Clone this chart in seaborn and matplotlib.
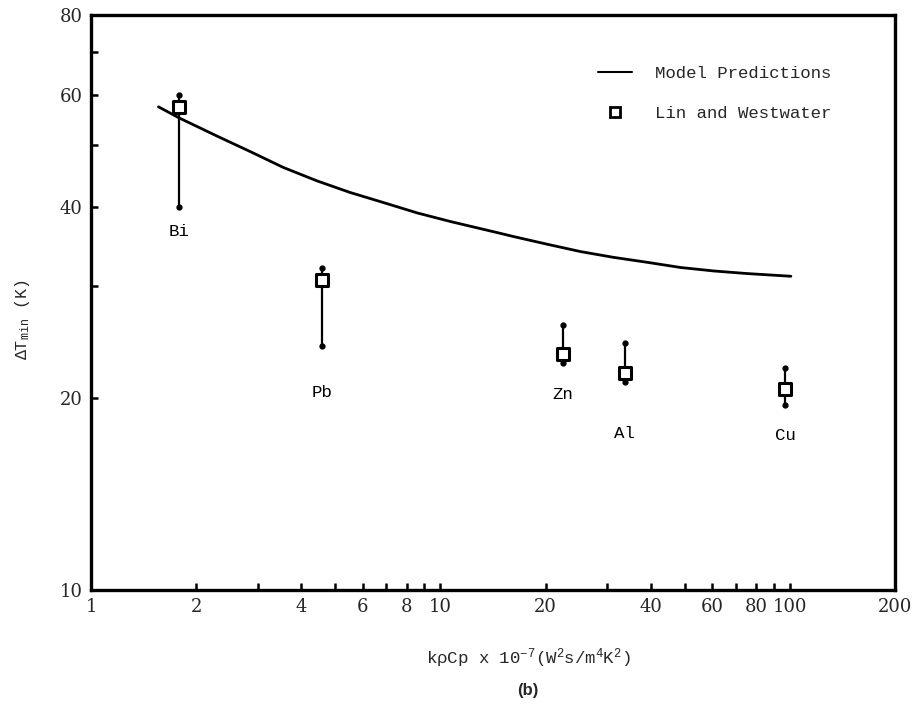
import numpy as np
import pandas as pd
import matplotlib
matplotlib.use("Agg")
import matplotlib.pyplot as plt
from matplotlib.lines import Line2D
from matplotlib.ticker import FixedLocator, NullFormatter, FixedFormatter
import seaborn as sns

# Model curve: kρCp (x 1e-7) vs minimum film-boiling superheat
model_x = [1.56, 1.78, 2.30, 2.86, 3.55, 4.44, 5.52, 6.87, 8.59, 10.7, 14.6,
           16.2, 20.3, 25.2, 31.3, 39.2, 48.7, 60.6, 75.8, 100.7]
model_y = [57.4, 55.2, 51.6, 48.8, 46.1, 43.9, 42.1, 40.6, 39.1, 37.9, 36.4,
           35.9, 34.9, 34.0, 33.3, 32.7, 32.1, 31.7, 31.4, 31.1]

# Lin and Westwater measurements
metals = ["Bi", "Pb", "Zn", "Al", "Cu"]
meas_x = [1.79, 4.59, 22.4, 33.7, 96.8]
meas_y = [57.4, 30.7, 23.5, 21.9, 20.7]
meas_hi = [60.0, 32.0, 26.1, 24.4, 22.3]
meas_lo = [40.0, 24.2, 22.7, 21.2, 19.5]

# label positions below each measurement (data coords)
label_y = [36.6, 20.4, 20.3, 17.6, 17.5]

x_ticks_labeled = [1, 2, 4, 6, 8, 10, 20, 40, 60, 80, 100, 200]
y_ticks_labeled = [10, 20, 40, 60, 80]

sns.set_style("ticks")
plt.rcParams["font.family"] = ["Liberation Mono", "DejaVu Sans"]
plt.rcParams["mathtext.fontset"] = "custom"
plt.rcParams["mathtext.rm"] = "Liberation Mono"
plt.rcParams["mathtext.it"] = "Liberation Mono"

fig = plt.figure(figsize=(9.17, 7.12), dpi=100)
ax = fig.add_axes([91 / 917, 1 - 590 / 712, (895 - 91) / 917, (590 - 15) / 712])

model_df = pd.DataFrame({"x": model_x, "y": model_y})
meas_df = pd.DataFrame({"x": meas_x, "y": meas_y, "metal": metals})

sns.lineplot(data=model_df, x="x", y="y", ax=ax, color="black", lw=2.0,
             sort=False, estimator=None)

# asymmetric error bars with dot ends
for xv, lo, hi in zip(meas_x, meas_lo, meas_hi):
    ax.plot([xv, xv], [lo, hi], color="black", lw=1.6, zorder=3)
    ax.plot([xv, xv], [lo, hi], ls="none", marker="o", ms=3.5, color="black", zorder=3)

sns.scatterplot(data=meas_df, x="x", y="y", ax=ax, marker="s", s=85,
                facecolor="white", edgecolor="black", linewidth=2.2, zorder=4)

for m, xv, ly in zip(metals, meas_x, label_y):
    ax.text(xv, ly, m, ha="center", va="center", fontsize=12.5, color="black")

ax.set_xscale("log")
ax.set_yscale("log")
ax.set_xlim(1, 200)
ax.set_ylim(10, 80)

minor_x = [3, 5, 7, 9, 30, 50, 70, 90]
ax.xaxis.set_major_locator(FixedLocator(x_ticks_labeled))
ax.xaxis.set_major_formatter(FixedFormatter([str(v) for v in x_ticks_labeled]))
ax.xaxis.set_minor_locator(FixedLocator(minor_x))
ax.xaxis.set_minor_formatter(NullFormatter())
ax.yaxis.set_major_locator(FixedLocator(y_ticks_labeled))
ax.yaxis.set_major_formatter(FixedFormatter([str(v) for v in y_ticks_labeled]))
ax.yaxis.set_minor_locator(FixedLocator([30, 50, 70]))
ax.yaxis.set_minor_formatter(NullFormatter())

ax.tick_params(which="both", direction="in", length=5, width=1.8, color="black",
               labelsize=13, pad=6)
for lbl in ax.get_xticklabels() + ax.get_yticklabels():
    lbl.set_fontfamily("DejaVu Serif")

for side in ["left", "right", "top", "bottom"]:
    ax.spines[side].set_visible(True)
    ax.spines[side].set_linewidth(2.4)
    ax.spines[side].set_color("black")

ax.set_xlabel("")
ax.set_ylabel("")
fig.text(528 / 917, 1 - 658 / 712, r"k$\rho$Cp x 10$^{-7}$(W$^{2}$s/m$^{4}$K$^{2}$)",
         ha="center", va="center", fontsize=12.5)
fig.text(528 / 917, 1 - 691 / 712, "(b)", ha="center", va="center",
         fontsize=12, fontweight="bold", family="Liberation Sans")
fig.text(22 / 917, 1 - 320 / 712, r"$\Delta$T$_{\rm min}$ (K)", rotation=90,
         ha="center", va="center", fontsize=12)

handles = [Line2D([], [], color="black", lw=1.5),
           Line2D([], [], ls="none", marker="s", ms=7, mfc="white", mec="black", mew=2)]
fig.legend(handles, ["Model Predictions", "Lin and Westwater"], loc="upper left",
           bbox_to_anchor=(582 / 917, 1 - 50 / 712), frameon=False, fontsize=12.5,
           handlelength=2.0, handletextpad=1.3, labelspacing=1.45)

fig.savefig("out.png", dpi=100)
